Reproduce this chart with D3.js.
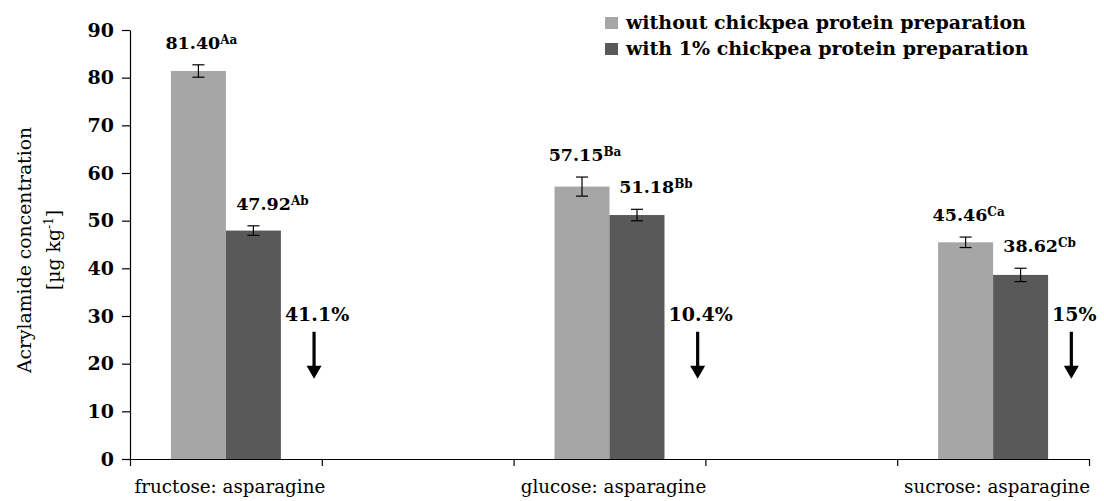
<!DOCTYPE html>
<html><head><meta charset="utf-8">
<script src="https://cdn.jsdelivr.net/npm/d3@7"></script>
<style>
body{margin:0;background:#fff;}
text{font-family:"DejaVu Serif",serif;}
</style></head>
<body><svg id="c" width="1104" height="501"></svg>
<script>
const categories = ["fructose: asparagine", "glucose: asparagine", "sucrose: asparagine"];
const series = ["without chickpea protein preparation", "with 1% chickpea protein preparation"];
const withoutValues = [81.40, 57.15, 45.46];
const withValues = [47.92, 51.18, 38.62];
const withoutErrors = [1.3, 2.0, 1.1];
const withErrors = [1.0, 1.2, 1.4];
const withoutLetters = ["Aa", "Ba", "Ca"];
const withLetters = ["Ab", "Bb", "Cb"];
const reductions = ["41.1%", "10.4%", "15%"];
const yTicks = [0, 10, 20, 30, 40, 50, 60, 70, 80, 90];
const colors = ["#a6a6a6", "#595959"];

(function () {
const svg = d3.select("#c");
const mLeft = 130, mRight = 1089, mTop = 30, mBottom = 459;
const nSlots = 5;
const slotOf = i => i * 2;

const y = d3.scaleLinear().domain([0, 90]).range([mBottom, mTop]);
const xSlot = d3.scaleBand().domain(d3.range(nSlots)).range([mLeft, mRight]).paddingInner(0).paddingOuter(0);
const xSeries = d3.scaleBand().domain([0, 1]).range([0, xSlot.bandwidth()]).paddingInner(0).paddingOuter(0.744);
const xLin = d3.scaleLinear().domain([0, nSlots]).range([mLeft, mRight]);

// y axis
const yAx = svg.append("g").attr("transform", `translate(${mLeft},0)`)
  .call(d3.axisLeft(y).tickValues(yTicks).tickSize(8).tickSizeOuter(0).tickPadding(8));
yAx.selectAll("text").attr("font-family", "DejaVu Serif").attr("font-weight", "bold").attr("font-size", 19).attr("fill", "#000");
yAx.selectAll("line,path").attr("stroke", "#000").attr("stroke-width", 1.2);

// x axis
const xAx = svg.append("g").attr("transform", `translate(0,${mBottom})`)
  .call(d3.axisBottom(xLin).tickValues(d3.range(nSlots + 1)).tickFormat("").tickSize(7).tickSizeOuter(0));
xAx.selectAll("line,path").attr("stroke", "#000").attr("stroke-width", 1.2);

// category labels
svg.append("g").selectAll("text").data(categories).join("text")
  .attr("x", (d, i) => xSlot(slotOf(i)) + xSlot.bandwidth() / 2 + 4)
  .attr("y", 493)
  .attr("text-anchor", "middle")
  .attr("font-size", 18.3)
  .attr("fill", "#000")
  .text(d => d);

// bars
const rows = [];
categories.forEach((c, i) => {
  rows.push({i, s: 0, v: withoutValues[i], e: withoutErrors[i], l: withoutLetters[i]});
  rows.push({i, s: 1, v: withValues[i], e: withErrors[i], l: withLetters[i]});
});
const bx = d => xSlot(slotOf(d.i)) + xSeries(d.s);
const bw = xSeries.bandwidth();

svg.append("g").selectAll("rect").data(rows).join("rect")
  .attr("x", bx).attr("width", bw)
  .attr("y", d => y(d.v)).attr("height", d => y(0) - y(d.v))
  .attr("fill", d => colors[d.s]);

// error bars
const eg = svg.append("g").attr("stroke", "#000").attr("stroke-width", 1.2);
rows.forEach(d => {
  const cx = bx(d) + bw / 2;
  eg.append("line").attr("x1", cx).attr("x2", cx).attr("y1", y(d.v + d.e)).attr("y2", y(d.v - d.e));
  eg.append("line").attr("x1", cx - 6).attr("x2", cx + 6).attr("y1", y(d.v + d.e)).attr("y2", y(d.v + d.e));
  eg.append("line").attr("x1", cx - 6).attr("x2", cx + 6).attr("y1", y(d.v - d.e)).attr("y2", y(d.v - d.e));
});

// value labels
const labelShift = [3, 19];
rows.forEach(d => {
  const t = svg.append("text")
    .attr("x", bx(d) + bw / 2 + labelShift[d.s])
    .attr("y", y(d.v + d.e) - 16)
    .attr("text-anchor", "middle")
    .attr("font-weight", "bold").attr("font-size", 17.5).attr("fill", "#000");
  t.append("tspan").text(d.v.toFixed(2));
  t.append("tspan").attr("font-size", 12).attr("dy", -5).text(d.l);
});

// reduction labels and arrows
reductions.forEach((r, i) => {
  const xr = xSlot(slotOf(i)) + xSeries(1) + bw;
  const t = svg.append("text")
    .attr("x", xr + 4).attr("y", y(29))
    .attr("font-weight", "bold").attr("font-size", 19).attr("fill", "#000")
    .text(r);
  const w = t.node().getComputedTextLength();
  const ax = xr + 4 + w / 2 - 3;
  const y0 = y(29) + 11, y1 = y(29) + 58;
  svg.append("line").attr("x1", ax).attr("x2", ax).attr("y1", y0).attr("y2", y1 - 10)
    .attr("stroke", "#000").attr("stroke-width", 3.2);
  svg.append("path").attr("d", `M${ax - 7.5},${y1 - 13}L${ax + 7.5},${y1 - 13}L${ax},${y1}Z`).attr("fill", "#000");
});

// y title
const yt = svg.append("text").attr("transform", "translate(31,250) rotate(-90)")
  .attr("text-anchor", "middle").attr("font-size", 18.8).attr("fill", "#000");
yt.append("tspan").attr("x", 0).attr("y", 0).text("Acrylamide concentration");
const l2 = yt.append("tspan").attr("x", 0).attr("y", 29);
l2.append("tspan").text("[µg kg");
l2.append("tspan").attr("font-size", 12).attr("dy", -7).text("-1");
l2.append("tspan").attr("dy", 7).text("]");

// legend
const lg = svg.append("g");
series.forEach((s, k) => {
  lg.append("rect").attr("x", 605).attr("y", 17 + k * 26).attr("width", 13).attr("height", 12).attr("fill", colors[k]);
  lg.append("text").attr("x", 626).attr("y", 29 + k * 26)
    .attr("font-weight", "bold").attr("font-size", 19).attr("fill", "#000").text(s);
});
})();
</script></body></html>
